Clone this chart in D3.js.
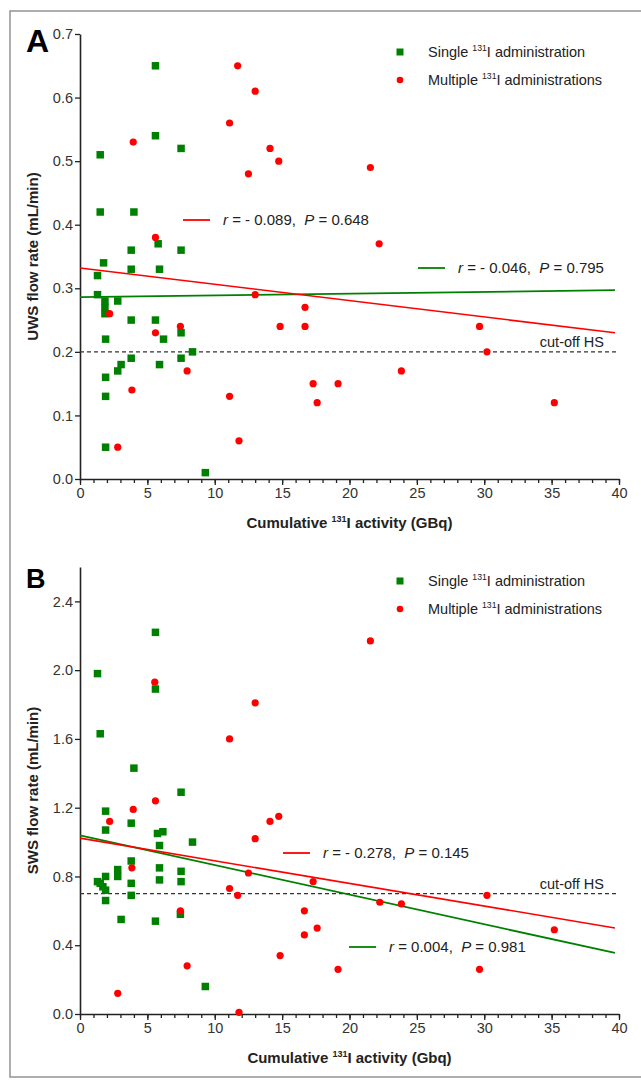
<!DOCTYPE html>
<html><head><meta charset="utf-8">
<script src="https://cdn.jsdelivr.net/npm/d3@7"></script>
<style>body{margin:0;background:#fff}svg{display:block;font-family:Arial,"Liberation Sans",sans-serif}</style>
</head><body><svg id="c" width="641" height="1080"></svg>
<script>
// ---- data ----
const xTicks = [0, 5, 10, 15, 20, 25, 30, 35, 40];
const xMinorTicks = [0,1,2,3,4,5,6,7,8,9,10,11,12,13,14,15,16,17,18,19,20,21,22,23,24,25,26,27,28,29,30,31,32,33,34,35,36,37,38,39,40];
const yTicksA = [0, 0.1, 0.2, 0.3, 0.4, 0.5, 0.6, 0.7];
const yTicksB = [0, 0.4, 0.8, 1.2, 1.6, 2.0, 2.4];

const singleA = [[5.6,0.65],[5.6,0.54],[7.5,0.52],[1.5,0.51],[1.5,0.42],[4.0,0.42],[3.8,0.36],[5.8,0.37],[7.5,0.36],[1.75,0.34],[1.3,0.32],[3.8,0.33],[5.9,0.33],[1.3,0.29],[1.85,0.28],[1.85,0.27],[1.85,0.26],[2.8,0.28],[3.8,0.25],[5.6,0.25],[1.9,0.22],[6.2,0.22],[7.5,0.23],[8.35,0.20],[7.5,0.19],[3.8,0.19],[5.9,0.18],[3.05,0.18],[2.8,0.17],[1.9,0.16],[1.9,0.13],[1.9,0.05],[9.3,0.01]];
const multipleA = [[11.7,0.65],[13.0,0.61],[11.1,0.56],[3.95,0.53],[14.1,0.52],[14.75,0.50],[12.5,0.48],[21.55,0.49],[5.6,0.38],[22.2,0.37],[13.0,0.29],[2.2,0.26],[5.6,0.23],[7.45,0.24],[14.85,0.24],[16.7,0.27],[16.7,0.24],[29.65,0.24],[30.2,0.20],[7.95,0.17],[23.85,0.17],[17.3,0.15],[19.15,0.15],[3.85,0.14],[11.1,0.13],[17.6,0.12],[35.2,0.12],[11.8,0.06],[2.8,0.05]];
const fitSingleA = [[0,0.286],[39.7,0.297]];
const fitMultipleA = [[0,0.332],[39.7,0.230]];
const cutoffA = 0.2;

const singleB = [[5.6,2.22],[1.3,1.98],[5.6,1.89],[1.5,1.63],[4.0,1.43],[7.5,1.29],[1.9,1.18],[1.9,1.07],[3.8,1.11],[5.75,1.05],[6.15,1.06],[8.35,1.00],[5.9,0.98],[3.8,0.89],[5.9,0.85],[2.8,0.84],[7.5,0.83],[2.8,0.80],[1.9,0.80],[1.3,0.77],[1.5,0.76],[1.7,0.74],[1.9,0.72],[3.8,0.76],[5.9,0.78],[7.5,0.77],[1.9,0.66],[3.8,0.69],[3.05,0.55],[5.6,0.54],[7.45,0.58],[9.3,0.16]];
const multipleB = [[5.55,1.93],[13.0,1.81],[11.1,1.60],[21.55,2.17],[5.6,1.24],[3.95,1.19],[2.2,1.12],[14.1,1.12],[14.75,1.15],[13.0,1.02],[3.85,0.85],[12.5,0.82],[17.3,0.77],[11.1,0.73],[11.7,0.69],[7.45,0.60],[16.65,0.60],[17.6,0.50],[16.65,0.46],[14.85,0.34],[7.95,0.28],[2.8,0.12],[11.8,0.01],[19.15,0.26],[22.25,0.65],[23.85,0.64],[30.2,0.69],[29.65,0.26],[35.2,0.49]];
const fitSingleB = [[0,1.039],[39.7,0.355]];
const fitMultipleB = [[0,1.023],[39.7,0.500]];
const cutoffB = 0.7;

const statsA = {multiple: ["- 0.089", "0.648"], single: ["- 0.046", "0.795"]};
const statsB = {multiple: ["- 0.278", "0.145"], single: ["0.004", "0.981"]};

// ---- styling ----
const GREEN = "#008000", RED = "#ff0000", INK = "#222";
const FS = 14.5;
const svg = d3.select("#c");
svg.append("rect").attr("width", 641).attr("height", 1080).attr("fill", "#fff");
svg.append("rect").attr("x", 10).attr("y", 11).attr("width", 660).attr("height", 1066)
  .attr("fill", "none").attr("stroke", "#9a9a9a").attr("stroke-width", 1.6);

const x = d3.scaleLinear().domain([0, 40]).range([80, 619]);

function rich(t, parts, size) {
  // parts: array of [text, isSup]
  let shift = 0;
  parts.forEach(([s, isSup]) => {
    const target = isSup ? -size * 0.42 : 0;
    t.append("tspan").text(s)
      .attr("font-size", isSup ? size * 0.6 : size)
      .attr("dy", target - shift);
    shift = target;
  });
}

function panel(o) {
  const g = svg.append("g");
  const y = o.y;
  // axes
  const minor = g.append("g").attr("transform", `translate(0,${y(0)})`)
    .call(d3.axisBottom(x).tickValues(xMinorTicks).tickSize(4).tickFormat("").tickSizeOuter(0));
  minor.select(".domain").remove();
  const xa = g.append("g").attr("transform", `translate(0,${y(0)})`)
    .call(d3.axisBottom(x).tickValues(xTicks).tickSize(6).tickPadding(3).tickFormat(d3.format("d")).tickSizeOuter(0));
  const ya = g.append("g").attr("transform", `translate(${x(0)},0)`)
    .call(d3.axisLeft(y).tickValues(o.yTicks).tickSize(5).tickPadding(2).tickFormat(d3.format(".1f")).tickSizeOuter(0));
  [minor, xa, ya].forEach(a => {
    a.selectAll("line").attr("stroke", INK).attr("stroke-width", 1.3);
    a.selectAll(".domain").attr("stroke", INK).attr("stroke-width", 1.6);
    a.selectAll("text").attr("font-size", FS).attr("fill", "#333").attr("font-family", "Arial, Liberation Sans, sans-serif");
  });

  // cutoff
  g.append("line").attr("x1", x(0)).attr("x2", x(40)).attr("y1", y(o.cutoff)).attr("y2", y(o.cutoff))
    .attr("stroke", "#333").attr("stroke-width", 1.2).attr("stroke-dasharray", "4,3");
  g.append("text").attr("x", 604).attr("y", y(o.cutoff) - 5).attr("text-anchor", "end")
    .attr("font-size", FS).attr("fill", INK).text("cut-off HS");

  // fit lines
  const line = d3.line().x(d => x(d[0])).y(d => y(d[1]));
  g.append("path").datum(o.fitS).attr("d", line).attr("stroke", GREEN).attr("stroke-width", 1.8).attr("fill", "none");
  g.append("path").datum(o.fitM).attr("d", line).attr("stroke", RED).attr("stroke-width", 1.6).attr("fill", "none");

  // points
  const s = 7.5;
  g.selectAll(".sq").data(o.single).join("rect")
    .attr("x", d => x(d[0]) - s / 2).attr("y", d => y(d[1]) - s / 2)
    .attr("width", s).attr("height", s).attr("fill", GREEN);
  g.selectAll(".ci").data(o.multiple).join("circle")
    .attr("cx", d => x(d[0])).attr("cy", d => y(d[1])).attr("r", 3.6).attr("fill", RED);

  // legend
  g.append("rect").attr("x", 400 - 3.5).attr("y", o.legY - 3.5).attr("width", 7).attr("height", 7).attr("fill", GREEN);
  g.append("circle").attr("cx", 400).attr("cy", o.legY + 28).attr("r", 3.3).attr("fill", RED);
  const l1 = g.append("text").attr("x", 428).attr("y", o.legY + 5).attr("fill", INK).attr("font-size", FS);
  rich(l1, [["Single ", false], ["131", true], ["I administration", false]], FS);
  const l2 = g.append("text").attr("x", 428).attr("y", o.legY + 33).attr("fill", INK).attr("font-size", FS);
  rich(l2, [["Multiple ", false], ["131", true], ["I administrations", false]], FS);

  // stats annotations
  function stat(px, py, color, st) {
    g.append("line").attr("x1", px).attr("x2", px + 27).attr("y1", py).attr("y2", py)
      .attr("stroke", color).attr("stroke-width", 1.8);
    const t = g.append("text").attr("x", px + 40).attr("y", py + 5).attr("font-size", 15)
      .attr("fill", INK).style("white-space", "pre");
    t.append("tspan").attr("font-style", "italic").text("r");
    t.append("tspan").text(" = " + st[0] + ",  ");
    t.append("tspan").attr("font-style", "italic").text("P");
    t.append("tspan").text(" = " + st[1]);
  }
  stat(o.annM[0], o.annM[1], RED, o.stats.multiple);
  stat(o.annS[0], o.annS[1], GREEN, o.stats.single);

  // axis titles
  const xt = g.append("text").attr("x", (x(0) + x(40)) / 2).attr("y", y(0) + 49)
    .attr("text-anchor", "middle").attr("font-weight", "bold").attr("font-size", 15).attr("fill", INK);
  rich(xt, [["Cumulative ", false], ["131", true], ["I activity (" + o.unit + ")", false]], 15);
  const cy = (y.range()[0] + y.range()[1]) / 2;
  g.append("text").attr("transform", `translate(38,${cy}) rotate(-90)`).attr("text-anchor", "middle")
    .attr("font-weight", "bold").attr("font-size", 15).attr("fill", INK).text(o.yTitle);

  // panel letter
  g.append("text").attr("x", o.letter[0]).attr("y", o.letter[1]).attr("font-weight", "bold")
    .attr("font-size", o.letter[2]).attr("fill", "#000").text(o.letter[3]);
}

panel({
  y: d3.scaleLinear().domain([0, 0.7]).range([479, 34]),
  yTicks: yTicksA, single: singleA, multiple: multipleA, fitS: fitSingleA, fitM: fitMultipleA,
  cutoff: cutoffA, stats: statsA, legY: 52, annM: [183, 220], annS: [418, 268],
  unit: "GBq", yTitle: "UWS flow rate (mL/min)", letter: [26, 52, 32, "A"]
});
panel({
  y: d3.scaleLinear().domain([0, 2.6]).range([1014, 567]),
  yTicks: yTicksB, single: singleB, multiple: multipleB, fitS: fitSingleB, fitM: fitMultipleB,
  cutoff: cutoffB, stats: statsB, legY: 581, annM: [283, 853], annS: [349, 947],
  unit: "Gbq", yTitle: "SWS flow rate (mL/min)", letter: [26, 588, 27, "B"]
});
</script></body></html>
